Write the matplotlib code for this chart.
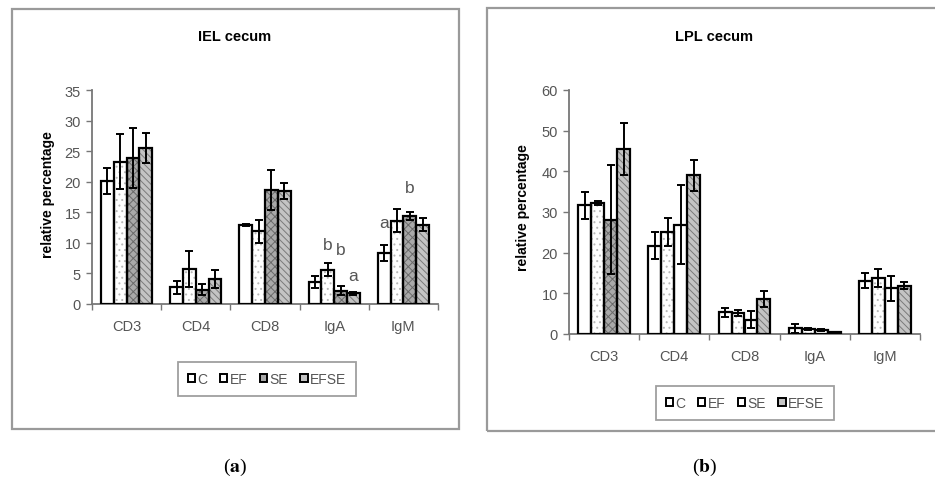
import matplotlib
matplotlib.use("Agg")
import matplotlib.pyplot as plt
import numpy as np
from matplotlib.patches import Rectangle

plt.rcParams['font.family'] = ['Liberation Sans', 'DejaVu Sans']
plt.rcParams['mathtext.fontset'] = 'stix'
plt.rcParams['hatch.linewidth'] = 0.7

categories = ['CD3', 'CD4', 'CD8', 'IgA', 'IgM']
series = ['C', 'EF', 'SE', 'EFSE']

# IEL cecum
iel_C = [20.1, 2.7, 12.9, 3.65, 8.3]
iel_EF = [23.3, 5.7, 11.9, 5.6, 13.6]
iel_SE = [23.9, 2.3, 18.6, 2.2, 14.4]
iel_EFSE = [25.5, 4.1, 18.5, 1.75, 13.0]
iel_C_err = [2.1, 1.1, 0.2, 1.0, 1.3]
iel_EF_err = [4.5, 2.9, 1.9, 1.1, 1.9]
iel_SE_err = [4.9, 0.9, 3.3, 0.7, 0.7]
iel_EFSE_err = [2.5, 1.5, 1.3, 0.2, 1.1]

# LPL cecum
lpl_C = [31.7, 21.7, 5.3, 1.4, 13.1]
lpl_EF = [32.2, 25.1, 5.2, 1.2, 13.8]
lpl_SE = [28.1, 26.9, 3.5, 1.0, 11.2]
lpl_EFSE = [45.6, 39.0, 8.6, 0.5, 11.9]
lpl_C_err = [3.3, 3.3, 1.0, 1.1, 1.9]
lpl_EF_err = [0.6, 3.5, 0.8, 0.3, 2.3]
lpl_SE_err = [13.4, 9.8, 2.1, 0.2, 3.1]
lpl_EFSE_err = [6.4, 3.8, 1.9, 0.1, 0.9]

# significance letters (category, series, letter, height)
iel_letters = [('IgA', 'EF', 'b', 9.8), ('IgA', 'SE', 'b', 8.9), ('IgA', 'EFSE', 'a', 4.6),
               ('IgM', 'C', 'a', 13.4), ('IgM', 'SE', 'b', 19.0)]

W, H = 935, 485
fig = plt.figure(figsize=(W / 100, H / 100), dpi=100)

def fx(px):
    return px / W

def fy(py):
    return 1 - py / H

# outer frames
for (x0, y0, x1, y1) in [(12, 10, 459, 430), (487, 9, 945, 432)]:
    fig.patches.append(Rectangle((fx(x0), fy(y1)), fx(x1 - x0), (y1 - y0) / H,
                                 transform=fig.transFigure, fill=False,
                                 edgecolor='#9a9a9a', linewidth=1.6))

GRAY_TXT = '#555555'

def style_for(panel, s, ci):
    # returns facecolor, hatch, hatchcolor
    if s == 'C':
        return 'white', None, None
    if s == 'EF':
        return 'white', '...', '#b8b8b8'
    if s == 'SE':
        if panel == 'iel' or ci == 0:
            return '#a9a9a9', 'xxxx', '#6a6a6a'
        return 'white', None, None
    return '#c4c4c4', '\\\\\\\\\\', '#7a7a7a'

def draw_panel(rect, panel, data, errs, ymax, ystep, title, title_pos, ylab_pos,
               leg_center, letters=None):
    ax = fig.add_axes(rect)
    x = np.arange(len(categories))
    bw = 0.185
    offs = (np.arange(4) - 1.5) * bw
    for si, s in enumerate(series):
        vals = data[si]
        for ci in range(len(categories)):
            fc, hatch, hc = style_for(panel, s, ci)
            ax.bar(x[ci] + offs[si], vals[ci], bw, color=fc, hatch=hatch,
                   edgecolor=hc if hc else fc, linewidth=0, zorder=2)
        ax.bar(x + offs[si], vals, bw, fill=False, edgecolor='black', linewidth=1.6, zorder=3)
        ax.errorbar(x + offs[si], vals, yerr=errs[si], fmt='none', ecolor='black',
                    elinewidth=1.4, capsize=3.2, capthick=1.4, zorder=4)
    # legend proxies
    handles = []
    for si, s in enumerate(series):
        fc, hatch, hc = style_for(panel, s, 1)
        if panel == 'lpl' and s == 'SE':
            fc, hatch, hc = 'white', None, None
        h = Rectangle((0, 0), 1, 1, facecolor=fc, edgecolor='black', linewidth=1.4)
        handles.append(h)
    ax.set_xlim(-0.5, len(categories) - 0.5)
    ax.set_ylim(0, ymax)
    ax.set_yticks(np.arange(0, ymax + 0.1, ystep))
    ax.set_xticks(x)
    ax.set_xticklabels(categories)
    ax.set_xticks(np.arange(-0.5, len(categories)), minor=True)
    ax.tick_params(axis='x', which='major', length=0, pad=11, labelsize=10.5, labelcolor=GRAY_TXT)
    ax.tick_params(axis='x', which='minor', length=4, width=1, color='#777777', direction='out')
    ax.tick_params(axis='y', length=4, width=1, color='#777777', labelsize=10.5,
                   labelcolor=GRAY_TXT, pad=4)
    for sp in ['top', 'right']:
        ax.spines[sp].set_visible(False)
    for sp in ['left', 'bottom']:
        ax.spines[sp].set_color('#777777')
        ax.spines[sp].set_linewidth(1.3)
    fig.text(fx(title_pos[0]), fy(title_pos[1]), title, ha='center', va='center',
             fontsize=10.5, fontweight='bold')
    fig.text(fx(ylab_pos[0]), fy(ylab_pos[1]), 'relative percentage', ha='center',
             va='center', rotation=90, fontsize=10, fontweight='bold')
    if letters:
        for cat, s, letter, yv in letters:
            ax.text(categories.index(cat) + offs[series.index(s)], yv, letter,
                    ha='center', va='center', fontsize=12.5, color=GRAY_TXT)
    leg = fig.legend(handles, series, loc='center', bbox_to_anchor=(fx(leg_center[0]), fy(leg_center[1])),
                     ncol=4, frameon=True, fancybox=False, fontsize=10,
                     handlelength=0.55, handleheight=0.55, handletextpad=0.15,
                     columnspacing=0.9, borderpad=0.7, labelcolor=GRAY_TXT)
    leg.get_frame().set_edgecolor('#888888')
    leg.get_frame().set_linewidth(1.3)
    return ax

draw_panel([fx(92), fy(305), fx(438 - 92), (305 - 91) / H], 'iel',
           [iel_C, iel_EF, iel_SE, iel_EFSE],
           [iel_C_err, iel_EF_err, iel_SE_err, iel_EFSE_err],
           35, 5, 'IEL cecum', (235, 37), (48, 195), (267, 380), iel_letters)

draw_panel([fx(569), fy(335), fx(920 - 569), (335 - 91) / H], 'lpl',
           [lpl_C, lpl_EF, lpl_SE, lpl_EFSE],
           [lpl_C_err, lpl_EF_err, lpl_SE_err, lpl_EFSE_err],
           60, 10, 'LPL cecum', (714, 37), (523, 208), (745, 404))

for lab, xp in [('a', 235), ('b', 705)]:
    fig.text(fx(xp), fy(467), r'($\mathbf{%s}$)' % lab, ha='center', va='center',
             fontsize=14, family='Liberation Serif')

fig.savefig('out.png', dpi=100)
